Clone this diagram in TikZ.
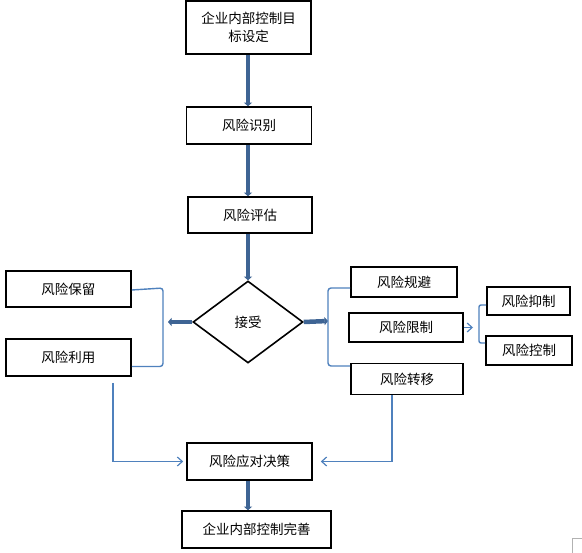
\documentclass[tikz,border=0pt]{standalone}
\usepackage{fontspec}
\newfontfamily\cjk{Noto Sans CJK SC}
\usetikzlibrary{shapes.geometric,arrows.meta}
\definecolor{thick}{HTML}{3E6494}
\definecolor{thin}{HTML}{4F81BD}
\tikzset{
  box/.style={draw=black,line width=1.6pt,inner sep=0pt,align=center,font=\cjk\fontsize{13.5}{18}\selectfont},
  bigarrow/.style={draw=thick,line width=4.5pt,-{Triangle[width=8pt,length=3.5pt]}},
  thinline/.style={draw=thin,line width=1.4pt},
  thinarrow/.style={draw=thin,line width=1.4pt,-{Straight Barb[width=9pt,length=5pt,line width=1.2pt]}},
}
\begin{document}
\begin{tikzpicture}[x=1pt,y=-1pt]
\useasboundingbox (0,0) rectangle (582,553);
% main column
\node[box,minimum width=125pt,minimum height=53pt] (b1) at (248.5,27.5) {企业内部控制目\\标设定};
\node[box,minimum width=125pt,minimum height=37pt] (b2) at (249,125.5) {风险识别};
\node[box,minimum width=124pt,minimum height=36pt] (b3) at (250,215) {风险评估};
\node[box,diamond,minimum width=110pt,minimum height=82pt] (d) at (248,322) {接受};
\node[box,minimum width=125pt,minimum height=37pt] (b4) at (249.5,461.5) {风险应对决策};
\node[box,minimum width=149pt,minimum height=37pt] (b5) at (256.5,529.5) {企业内部控制完善};
% left
\node[box,minimum width=125pt,minimum height=36pt] (l1) at (68.5,289) {风险保留};
\node[box,minimum width=125pt,minimum height=37pt] (l2) at (68.5,357.5) {风险利用};
% right
\node[box,minimum width=106pt,minimum height=30pt] (r1) at (404,282) {风险规避};
\node[box,minimum width=114pt,minimum height=29pt] (r2) at (406,327.5) {风险限制};
\node[box,minimum width=112pt,minimum height=31pt] (r3) at (407,379) {风险转移};
\node[box,minimum width=83pt,minimum height=28pt] (x1) at (528.5,301) {风险抑制};
\node[box,minimum width=86pt,minimum height=29pt] (x2) at (529,350.5) {风险控制};
% free ends
\coordinate (la) at (168,322);
\coordinate (ra) at (328,321);
\coordinate (sa) at (473,327.5);
% thick arrows
\draw[bigarrow] (b1.south -| 248,0) -- (b2.north -| 248,0);
\draw[bigarrow] (b2.south -| 248,0) -- (b3.north -| 248,0);
\draw[bigarrow] (b3.south -| 248,0) -- (d.north);
\draw[bigarrow] (b4.south -| 248,0) -- (b5.north -| 248,0);
\draw[bigarrow] (d.west) -- (la);
\draw[bigarrow] (d.east) -- (ra);
% brackets
\draw[thinline,rounded corners=3pt] ([yshift=-1pt]l1.east) -- (163,288) -- (163,366.5) -- ([yshift=-9pt]l2.east);
\draw[thinline,rounded corners=3pt] ([yshift=-6pt]r1.west) -- (328,288) -- (328,366) -- ([yshift=13pt]r3.west);
\draw[thinline,rounded corners=2pt] ([yshift=-4pt]x1.west) -- (479,305) -- (479,343) -- ([yshift=7.5pt]x2.west);
\draw[thinarrow] (r2.east) -- (sa);
% to decision
\coordinate (lt) at (113,383);
\draw[thinarrow,shorten >=3pt] (lt) -- (113,461.5) -- (b4.west);
\draw[thinarrow,shorten >=8pt] ([xshift=-15pt]r3.south) -- (392,461.5) -- (b4.east);
% corner mark
\draw[gray!60,line width=0.8pt] (572.5,553) -- (572.5,538.5) -- (582,538.5);
\end{tikzpicture}
\end{document}
